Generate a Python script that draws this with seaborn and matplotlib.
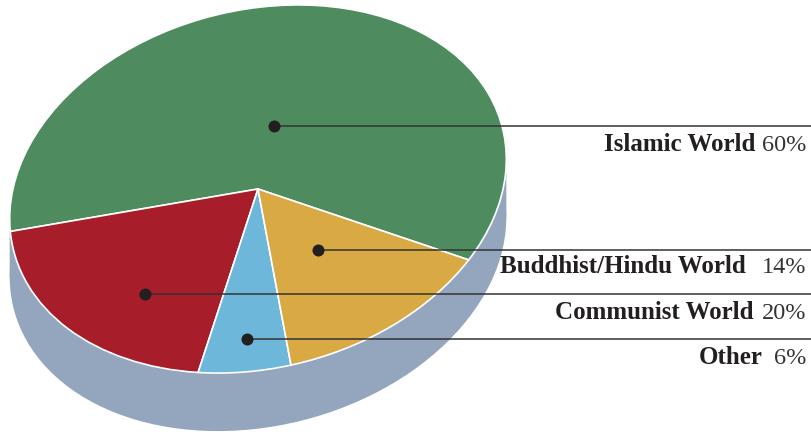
import matplotlib
matplotlib.use("Agg")
import matplotlib.pyplot as plt
import numpy as np
import seaborn as sns
from matplotlib.patches import Ellipse, Polygon
from matplotlib.transforms import Affine2D

# data
categories = ["Islamic World", "Communist World", "Other", "Buddhist/Hindu World"]
shares = [60, 20, 6, 14]
pct_labels = ["60%", "20%", "6%", "14%"]
colors = ["#4e8c5f", "#a71d2a", "#6db8da", "#d9a944"]

# layout (pixel-like data units, y up)
W, H = 811, 435
CX, CY = 258, 245          # pie centre
RX, RY = 252, 179          # ellipse semi-axes
TILT = 14                  # degrees
DEPTH = 58
SIDE = "#93a6be"
anchors = [(274, 127), (145, 295), (247, 340), (318, 251)]   # dot positions (px from top)
text_base = [151, 319, 364, 273]                              # label baselines (px from top)
gaps = [6, 8, 11, 16]


def main() -> None:
    sns.set_theme(style="white")
    plt.rcParams["font.family"] = ["Liberation Serif", "DejaVu Serif"]

    fig = plt.figure(figsize=(W / 100, H / 100), dpi=100)
    ax = fig.add_axes([0, 0, 1, 1])

    wedges, _ = ax.pie(
        shares,
        colors=colors,
        startangle=-42,
        counterclock=True,
        wedgeprops=dict(edgecolor="white", linewidth=1.2),
    )
    tr = Affine2D().scale(RX, RY).rotate_deg(TILT).translate(CX, CY) + ax.transData
    for w in wedges:
        w.set_transform(tr)
        w.set_zorder(3)

    ax.set_aspect("auto")
    ax.set_xlim(0, W)
    ax.set_ylim(0, H)
    ax.axis("off")

    # cylinder side
    th = np.radians(TILT)
    t0 = np.arctan2(-RY * np.sin(th), RX * np.cos(th))
    pts = []
    for t in (t0, t0 + np.pi):
        x = CX + RX * np.cos(t) * np.cos(th) - RY * np.sin(t) * np.sin(th)
        y = CY + RX * np.cos(t) * np.sin(th) + RY * np.sin(t) * np.cos(th)
        pts.append((x, y))
    (x1, y1), (x2, y2) = pts
    ax.add_patch(Polygon([(x1, y1), (x2, y2), (x2, y2 - DEPTH), (x1, y1 - DEPTH)],
                         closed=True, facecolor=SIDE, edgecolor="none", zorder=1))
    ax.add_patch(Ellipse((CX, CY - DEPTH), 2 * RX, 2 * RY, angle=TILT,
                         facecolor=SIDE, edgecolor="none", zorder=1))

    # leader lines, dots and labels
    for name, pct, (px, py), base, gap in zip(categories, pct_labels, anchors, text_base, gaps):
        yy = H - py
        ax.plot([px, W], [yy, yy], color="#333333", linewidth=1.1, zorder=4,
                solid_capstyle="butt")
        ax.scatter([px], [yy], s=75, color="#231f20", zorder=5, linewidths=0)
        t = ax.text(W - 5, H - base, pct, ha="right", va="baseline",
                    fontsize=17.5, color="#333333", zorder=6)
        ax.annotate(name, xy=(0, 0), xycoords=t, xytext=(-gap, 0),
                    textcoords="offset pixels", ha="right", va="bottom",
                    fontsize=18, fontweight="bold", color="#231f20", zorder=6)

    fig.savefig("out.png", dpi=100, facecolor="white")
    plt.close(fig)


if __name__ == "__main__":
    main()
